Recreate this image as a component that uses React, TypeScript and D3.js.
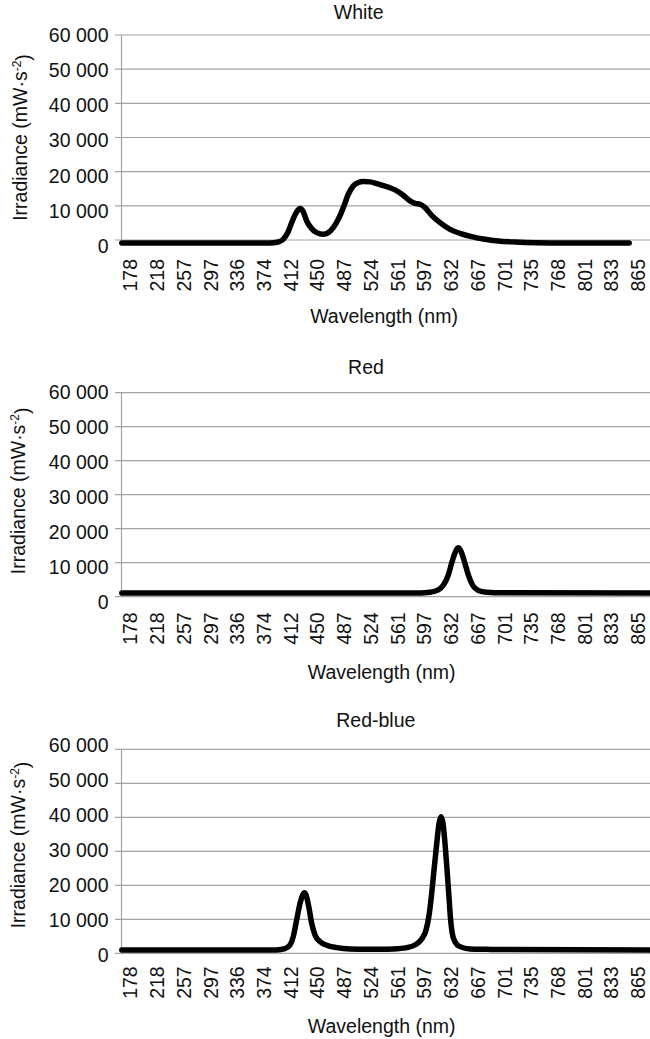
import React from 'react';
import * as d3 from 'd3';

// category labels on the wavelength axis (spectrometer pixels, evenly spaced)
const tickWavelengths = [178, 218, 257, 297, 336, 374, 412, 450, 487, 524, 561, 597, 632, 667, 701, 735, 768, 801, 833, 865];
const yTicks = [0, 10000, 20000, 30000, 40000, 50000, 60000];

const whiteWl = [165, 368, 382, 394, 401, 408, 415, 421, 425, 429, 434.5, 441.6, 448.7, 457.9, 464.8, 471.7, 478.6, 485.6, 492.5, 499.5, 506.4, 513.3, 522.5, 531.8, 541, 550.2, 557.1, 568.4, 577.4, 584.2, 590.9, 597.7, 606.4, 617.3, 630.4, 643.4, 658.7, 675.9, 692.8, 714.1, 740, 780, 854];
const whiteIrr = [-900, -900, -900, -590, 200, 2350, 6060, 8500, 9190, 8500, 5570, 3320, 2150, 1660, 2150, 3620, 6060, 9480, 13390, 15840, 16810, 17100, 17010, 16520, 15900, 15300, 14660, 13100, 11440, 10750, 10460, 9480, 7230, 5080, 3130, 1955, 978, 196, -293, -590, -800, -900, -900];

const redWl = [165, 560, 591, 604, 615, 621.6, 628.2, 633.3, 638.2, 641.2, 644.3, 649, 654.3, 660, 667.4, 678, 699, 890];
const redIrr = [1100, 1100, 1120, 1330, 2040, 3370, 6430, 10500, 13570, 14380, 13570, 10500, 6430, 3370, 1840, 1330, 1150, 1100];

const redBlueWl = [165, 368, 392, 403.6, 410.7, 415.4, 420.2, 425, 428.8, 431.1, 433.6, 437.4, 441.6, 446.3, 453.3, 462.6, 476.4, 494.9, 518, 536, 555, 573, 584, 593, 599, 603.3, 606.4, 609.4, 613, 616, 618.6, 621.2, 623.8, 626.5, 628.7, 630.8, 633.3, 636.8, 643.4, 656.4, 678, 701, 890];
const redBlueIrr = [1000, 1000, 1000, 1370, 2450, 4900, 9800, 14700, 17150, 17840, 17150, 13720, 8820, 5390, 3430, 2350, 1670, 1270, 1180, 1180, 1270, 1670, 2450, 4120, 6860, 11760, 17640, 24500, 32340, 38220, 40180, 38220, 32340, 24500, 17640, 10780, 5880, 3430, 1960, 1270, 1180, 1100, 1000];

const W = 650;
const H = 1039;
const FONT = '"Liberation Sans", Arial, sans-serif';
const GRID = '#a3a3a3';
const INK = '#111';

const axisX = 121.5;
const gridLeft = 115;
const firstTick = 130.5;
const tickStep = 26.73;

const panels = [
  { title: 'White', wl: whiteWl, irr: whiteIrr, top: 35, zero: 240, titleX: 358.7, titleY: 19.3, xLabTop: 260, xTitleX: 384, xTitleY: 323.3, yTitleX: 26.7, yTitleY: 137.5, labShift: 0 },
  { title: 'Red', wl: redWl, irr: redIrr, top: 392.7, zero: 596.7, titleX: 366, titleY: 374, xLabTop: 613.3, xTitleX: 381.7, xTitleY: 679.3, yTitleX: 25, yTitleY: 490.8, labShift: -1 },
  { title: 'Red-blue', wl: redBlueWl, irr: redBlueIrr, top: 749.3, zero: 953.3, titleX: 375.8, titleY: 727.3, xLabTop: 967.3, xTitleX: 381.7, xTitleY: 1033, yTitleX: 25, yTitleY: 845, labShift: -4.3 },
];

const fmt = (v: number) => d3.format(',')(v).replace(/,/g, ' ');

const Panel = ({ p }: { p: typeof panels[number] }) => {
  const x = d3.scaleLinear()
    .domain(tickWavelengths)
    .range(tickWavelengths.map((_, i) => firstTick + i * tickStep));
  const y = d3.scaleLinear().domain([0, 60000]).range([p.zero, p.top]);
  // tick labels sit on a slightly looser spacing than the gridlines
  const yLab = d3.scaleLinear().domain([0, 60000]).range([p.zero + 6.3 + p.labShift, p.top + p.labShift]);

  const line = d3.line<number>()
    .x((d) => x(d))
    .y((_, i) => y(p.irr[i]))
    .curve(d3.curveMonotoneX);

  return (
    <g>
      <text x={p.titleX} y={p.titleY} textAnchor="middle" fontSize={19.5} fill={INK}>{p.title}</text>

      {yTicks.map((t) => (
        <line key={t} x1={gridLeft} x2={W} y1={y(t)} y2={y(t)} stroke={GRID} strokeWidth={1.2} />
      ))}
      <line x1={axisX} x2={axisX} y1={p.top} y2={p.zero} stroke={GRID} strokeWidth={1.2} />

      {yTicks.map((t) => (
        <text key={t} x={108.5} y={yLab(t)} dy="0.35em" textAnchor="end" fontSize={19.5} fill={INK}>{fmt(t)}</text>
      ))}

      {tickWavelengths.map((w) => (
        <text key={w} transform={`translate(${x(w)},${p.xLabTop - 1}) rotate(-90)`} dy="0.35em" textAnchor="end" fontSize={19.5} fill={INK}>{w}</text>
      ))}

      <path d={line(p.wl) ?? ''} fill="none" stroke="#000" strokeWidth={5.5} strokeLinejoin="round" strokeLinecap="round" />

      <text x={p.xTitleX} y={p.xTitleY} textAnchor="middle" fontSize={19.5} fill={INK}>Wavelength (nm)</text>
      <text transform={`translate(${p.yTitleX},${p.yTitleY}) rotate(-90)`} textAnchor="middle" fontSize={19.5} fill={INK}>
        Irradiance (mW·s<tspan dy="-0.5em" fontSize={12}>-2</tspan><tspan dy="0.5em">)</tspan>
      </text>
    </g>
  );
};

export default function App() {
  return (
    <svg width={W} height={H} style={{ position: 'absolute', left: 0, top: 0, display: 'block', background: '#fff' }} fontFamily={FONT}>
      {panels.map((p) => <Panel key={p.title} p={p} />)}
    </svg>
  );
}
